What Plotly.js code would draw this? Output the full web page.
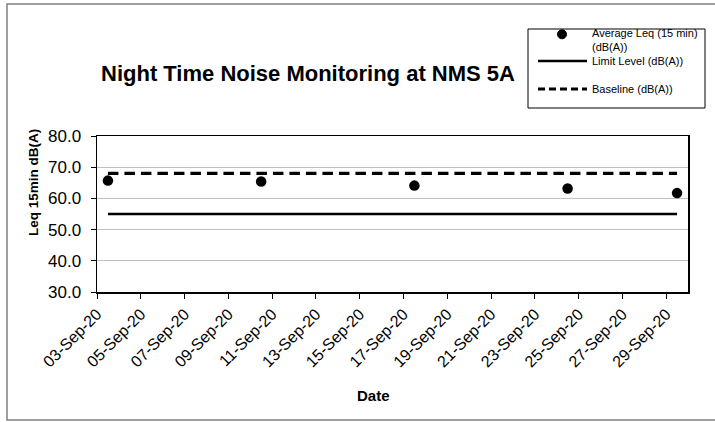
<!DOCTYPE html>
<html>
<head>
<meta charset="utf-8">
<script src="https://cdn.plot.ly/plotly-3.0.1.min.js"></script>
<style>
  html, body { margin: 0; padding: 0; background: #fff; }
  #chart { width: 715px; height: 422px; }
</style>
</head>
<body>
<div id="chart"></div>
<script>
const dates = ['2020-09-03 12:00', '2020-09-10 12:00', '2020-09-17 12:00', '2020-09-24 12:00', '2020-09-29 12:00'];
const avgLeq = [65.7, 65.4, 64.1, 63.2, 61.7];
const limitLevel = [55, 55, 55, 55, 55];
const baseline = [68, 68, 68, 68, 68];
const seriesNames = ['Average Leq (15 min)<br>(dB(A))', 'Limit Level (dB(A))', 'Baseline (dB(A))'];

const FONT = 'Arial, "Liberation Sans", sans-serif';

// plot-area geometry in pixels (for paper-coordinate conversion of decorations)
const L = 97, R = 688, T = 136, B = 292;
const px = v => (v - L) / (R - L);
const py = v => (B - v) / (B - T);

const traces = [
  { x: dates, y: avgLeq, name: seriesNames[0], type: 'scatter', mode: 'markers',
    marker: { color: '#000', size: 10.5, symbol: 'circle' } },
  { x: dates, y: limitLevel, name: seriesNames[1], type: 'scatter', mode: 'lines',
    line: { color: '#000', width: 2.7 } },
  { x: dates, y: baseline, name: seriesNames[2], type: 'scatter', mode: 'lines',
    line: { color: '#000', width: 3.2, dash: '10.5px,6px' } }
];

// legend drawn as decorations (box, symbols, text)
const legShapes = [
  { type: 'rect', xref: 'paper', yref: 'paper', x0: px(528), x1: px(705), y0: py(108), y1: py(29),
    line: { color: '#000', width: 1 }, fillcolor: '#fff' },
  { type: 'circle', xref: 'paper', yref: 'paper', x0: px(557.5), x1: px(566.5), y0: py(38.8), y1: py(29.8),
    line: { color: '#000', width: 1 }, fillcolor: '#000' },
  { type: 'line', xref: 'paper', yref: 'paper', x0: px(538), x1: px(587), y0: py(61), y1: py(61),
    line: { color: traces[1].line.color, width: 2.5 } },
  { type: 'line', xref: 'paper', yref: 'paper', x0: px(538), x1: px(587), y0: py(89), y1: py(89),
    line: { color: traces[2].line.color, width: 3, dash: '7px,4px' } }
];
const legRowsY = [40, 61, 89];
const legAnn = seriesNames.map((n, i) => ({
  xref: 'paper', yref: 'paper', x: px(590), y: py(legRowsY[i]), xanchor: 'left', yanchor: 'middle',
  text: n, showarrow: false, align: 'left', font: { size: 11, family: FONT, color: '#000' }
}));

const layout = {
  width: 715, height: 422,
  margin: { l: L, r: 715 - R, t: T, b: 422 - B },
  paper_bgcolor: '#fff', plot_bgcolor: '#fff',
  font: { family: FONT, color: '#000' },
  showlegend: false,
  title: { text: '<b>Night Time Noise Monitoring at NMS 5A</b>', font: { size: 22, family: FONT, color: '#000' },
           x: 308 / 715, xanchor: 'center', y: 1 - 73 / 422, yanchor: 'middle' },
  xaxis: {
    type: 'date', range: ['2020-09-03', '2020-09-30'],
    tick0: '2020-09-03', dtick: 2 * 86400000, tickformat: '%d-%b-%y', tickangle: -45,
    ticks: 'outside', ticklen: 5, tickcolor: '#000', showline: true, linecolor: '#000', linewidth: 1.5,
    mirror: true, showgrid: false, zeroline: false,
    tickfont: { size: 16, family: FONT, color: '#000' }
  },
  yaxis: {
    range: [30, 80], dtick: 10, tick0: 30, tickformat: '.1f',
    ticks: 'outside', ticklen: 5, tickcolor: '#000', showline: true, linecolor: '#000', linewidth: 1.5,
    mirror: true, showgrid: true, gridcolor: '#c0c0c0', gridwidth: 1, zeroline: false,
    tickfont: { size: 17, family: FONT, color: '#000' }, ticklabelstandoff: 6
  },
  annotations: [
    { xref: 'paper', yref: 'paper', x: px(33), y: py(183), textangle: -90, showarrow: false,
      xanchor: 'center', yanchor: 'middle', text: '<b>Leq 15min dB(A)</b>',
      font: { size: 13.5, family: FONT, color: '#000' } },
    { xref: 'paper', yref: 'paper', x: px(373), y: py(395), showarrow: false,
      xanchor: 'center', yanchor: 'middle', text: '<b>Date</b>',
      font: { size: 15, family: FONT, color: '#000' } }
  ].concat(legAnn),
  shapes: [
    { type: 'rect', xref: 'paper', yref: 'paper', x0: px(7), x1: px(720), y0: py(420), y1: py(4),
      line: { color: '#808080', width: 1.5 }, fillcolor: 'rgba(0,0,0,0)', layer: 'below' }
  ].concat(legShapes)
};

Plotly.newPlot('chart', traces, layout, { displayModeBar: false, staticPlot: true });
</script>
</body>
</html>
